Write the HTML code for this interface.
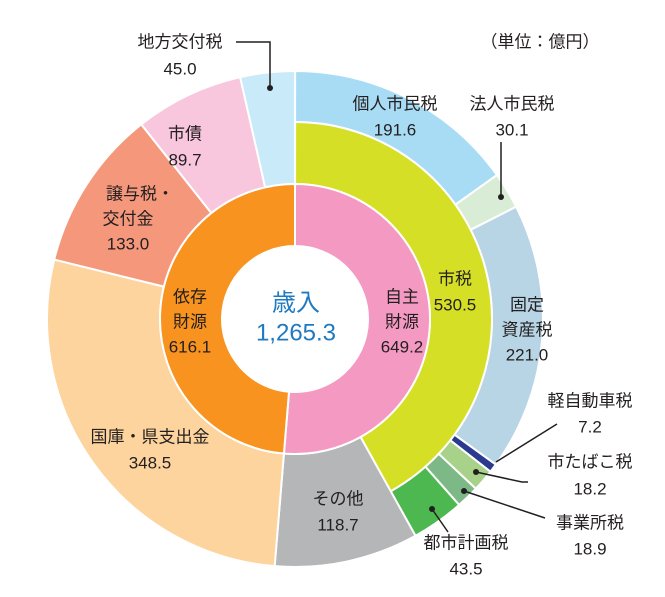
<!DOCTYPE html>
<html><head><meta charset="utf-8">
<style>
html,body{margin:0;padding:0;background:#fff;}
svg{display:block;}
text{font-family:"Liberation Sans","Noto Sans CJK JP",sans-serif;font-size:17px;fill:#231f20;text-anchor:middle;dominant-baseline:central;}
</style></head>
<body>
<svg id="s" width="665" height="597" viewBox="0 0 665 597" xmlns="http://www.w3.org/2000/svg">
<g id="seg"></g>
<g stroke="#231f20" stroke-width="1.5" fill="none">
<polyline points="236,42 270,42 270,88"/>
<line x1="501" y1="142" x2="501" y2="197"/>
<line x1="496" y1="462" x2="557" y2="424"/>
<polyline points="476,472 522,482 528,482"/>
<line x1="464" y1="491" x2="545" y2="518"/>
<line x1="432" y1="509" x2="448" y2="532"/>
</g>
<g fill="#231f20">
<circle cx="270" cy="88" r="3"/><circle cx="501" cy="197" r="3"/>
<circle cx="476" cy="472" r="3"/><circle cx="464" cy="491" r="3"/><circle cx="432" cy="509" r="3"/>
</g>
<text x="180" y="42">地方交付税</text><text x="180" y="69">45.0</text>
<text x="540" y="42">（単位：億円）</text>
<text x="395" y="104">個人市民税</text><text x="395" y="130">191.6</text>
<text x="512" y="104">法人市民税</text><text x="512" y="130">30.1</text>
<text x="185" y="134">市債</text><text x="185" y="160">89.7</text>
<text x="140" y="194">譲与税・</text><text x="128" y="219">交付金</text><text x="128" y="244">133.0</text>
<text x="455" y="279">市税</text><text x="455" y="305">530.5</text>
<text x="527" y="305">固定</text><text x="527" y="330">資産税</text><text x="527" y="355">221.0</text>
<text x="190" y="297">依存</text><text x="190" y="322">財源</text><text x="190" y="347">616.1</text>
<text x="402" y="297">自主</text><text x="402" y="322">財源</text><text x="402" y="347">649.2</text>
<text x="296" y="303" style="font-size:24px;fill:#1f7ac0">歳入</text>
<text x="296" y="333" style="font-size:24px;fill:#1f7ac0">1,265.3</text>
<text x="590" y="401">軽自動車税</text><text x="590" y="427">7.2</text>
<text x="590" y="462">市たばこ税</text><text x="590" y="489">18.2</text>
<text x="590" y="523">事業所税</text><text x="590" y="549">18.9</text>
<text x="466" y="543">都市計画税</text><text x="466" y="569">43.5</text>
<text x="338" y="499">その他</text><text x="338" y="525">118.7</text>
<text x="150" y="437">国庫・県支出金</text><text x="150" y="463">348.5</text>
</svg>
<script>
(function(){
var cx=295,cy=319,T=1265.3;
var g=document.getElementById('seg');
function pt(r,v){var a=v/T*2*Math.PI;return [cx+r*Math.sin(a),cy-r*Math.cos(a)];}
function arc(r0,r1,v0,v1,col){
 var p1=pt(r1,v0),p2=pt(r1,v1),p3=pt(r0,v1),p4=pt(r0,v0);
 var large=(v1-v0)/T>0.5?1:0;
 var d='M'+p1+' A'+r1+','+r1+' 0 '+large+' 1 '+p2+' L'+p3+' A'+r0+','+r0+' 0 '+large+' 0 '+p4+'Z';
 var e=document.createElementNS('http://www.w3.org/2000/svg','path');
 e.setAttribute('d',d);e.setAttribute('fill',col);e.setAttribute('stroke','#fff');e.setAttribute('stroke-width','2');
 g.appendChild(e);
}
var outer=[[191.6,'#a8dcf5'],[30.1,'#d9ecd5'],[221.0,'#b8d5e5'],[7.2,'#2a3a8f'],[18.2,'#a8d18a'],[18.9,'#7db887'],[43.5,'#4db84f']];
var v=0;
outer.forEach(function(o){arc(197,248,v,v+o[0],o[1]);v+=o[0];});
arc(135,197,0,530.5,'#d5df26');
var rest=[[118.7,'#b5b6b8'],[348.5,'#fdd49d'],[133.0,'#f4977b'],[89.7,'#f8c6dd'],[45.0,'#c9eaf9']];
rest.forEach(function(o){arc(135,248,v,v+o[0],o[1]);v+=o[0];});
arc(73,135,0,649.2,'#f49ac2');
arc(73,135,649.2,1265.3,'#f7931e');
})();
</script>
</body></html>
